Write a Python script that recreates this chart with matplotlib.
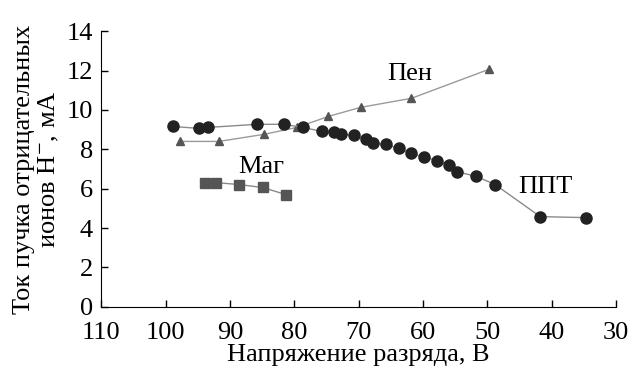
import matplotlib
matplotlib.use("Agg")
import matplotlib.pyplot as plt

plt.rcParams['font.family'] = ['Liberation Serif', 'DejaVu Serif']
plt.rcParams['mathtext.fontset'] = 'stix'

# ППТ (circles)
ppt_x = [98.8, 94.8, 93.4, 85.8, 81.6, 78.7, 75.7, 73.9, 72.8, 70.8, 68.8, 67.7,
         65.8, 63.8, 61.8, 59.8, 57.8, 55.9, 54.8, 51.7, 48.8, 41.8, 34.7]
ppt_y = [9.16, 9.06, 9.11, 9.27, 9.27, 9.11, 8.91, 8.86, 8.76, 8.71, 8.50, 8.30,
         8.25, 8.05, 7.79, 7.59, 7.43, 7.18, 6.87, 6.62, 6.21, 4.58, 4.53]
# Пен (triangles)
pen_x = [97.8, 91.7, 84.7, 79.6, 74.7, 69.7, 61.8, 49.7]
pen_y = [8.40, 8.40, 8.76, 9.11, 9.67, 10.13, 10.59, 12.07]
# Маг (squares)
mag_x = [93.9, 92.2, 88.6, 84.9, 81.3]
mag_y = [6.31, 6.31, 6.21, 6.06, 5.70]

xticks = [110, 100, 90, 80, 70, 60, 50, 40, 30]
yticks = [0, 2, 4, 6, 8, 10, 12, 14]

fig = plt.figure(figsize=(6.32, 3.71), dpi=100)
ax = fig.add_axes([0.16, 0.173, 0.815, 0.743])

ax.plot(pen_x, pen_y, color='#9a9a9a', lw=1, marker='^', ms=6,
        mfc='#555555', mec='#555555')
ax.plot(mag_x, mag_y, color='#8a8a8a', lw=1, marker='s', ms=7,
        mfc='#555555', mec='#555555')
ax.plot(ppt_x, ppt_y, color='#8a8a8a', lw=1, marker='o', ms=8,
        mfc='#222222', mec='#222222')

ax.text(62.0, 11.8, 'Пен', fontsize=19, ha='center', va='center')
ax.text(41.0, 6.1, 'ППТ', fontsize=19, ha='center', va='center')
ax.text(85.2, 7.1, 'Маг', fontsize=19, ha='center', va='center')

ax.set_xlim(110, 30)
ax.set_ylim(0, 14)
ax.set_xticks(xticks)
ax.set_yticks(yticks)
ax.tick_params(direction='in', length=5, width=1, labelsize=19)
ax.tick_params(axis='x', pad=11)
ax.tick_params(axis='y', pad=6)
ax.spines['top'].set_visible(False)
ax.spines['right'].set_visible(False)

ax.set_xlabel('Напряжение разряда, В', fontsize=19, labelpad=0)
ax.set_ylabel('Ток пучка отрицательных\nионов H$^{-}$, мА', fontsize=19,
              linespacing=1.1, labelpad=4)

fig.savefig('out.png', dpi=100)
